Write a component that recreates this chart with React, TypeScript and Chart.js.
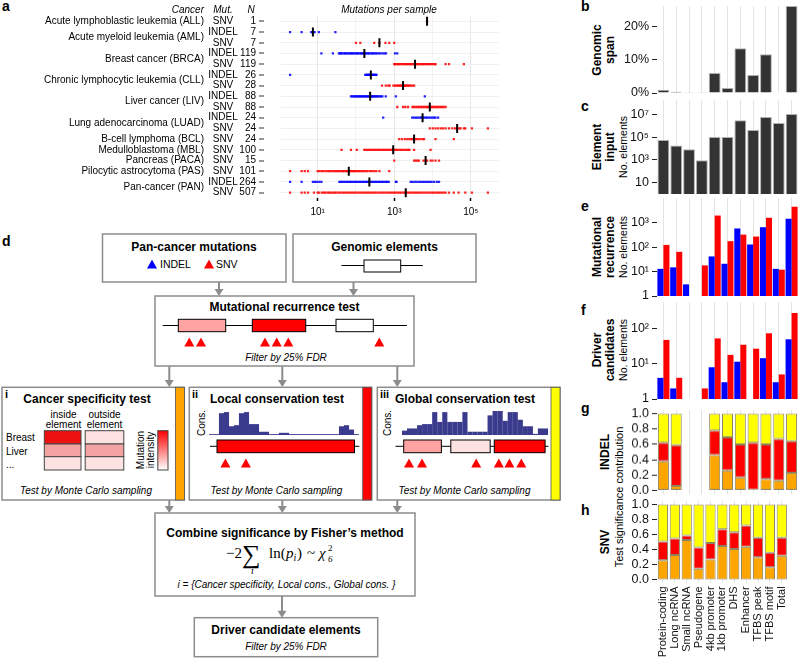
import React, { useEffect, useRef } from "react";
import { Chart, registerables } from "chart.js";
Chart.register(...registerables);

const SANS = '"Liberation Sans", Arial, Helvetica, sans-serif';
const SERIF = '"Liberation Serif", "DejaVu Serif", serif';
Chart.defaults.font.family = SANS;

// ---------------- Panel a data ----------------
const cancerCodes = ["ALL", "AML", "BRCA", "CLL", "LIV", "LUAD", "BCL", "MBL", "PACA", "PAS", "PAN"];
const cancerLabels = [
  "Acute lymphoblastic leukemia (ALL)",
  "Acute myeloid leukemia (AML)",
  "Breast cancer (BRCA)",
  "Chronic lymphocytic leukemia (CLL)",
  "Liver cancer (LIV)",
  "Lung adenocarcinoma (LUAD)",
  "B-cell lymphoma (BCL)",
  "Medulloblastoma (MBL)",
  "Pancreas (PACA)",
  "Pilocytic astrocytoma (PAS)",
  "Pan-cancer (PAN)",
];
const rowCancer = ["ALL", "AML", "AML", "BRCA", "BRCA", "CLL", "CLL", "LIV", "LIV", "LUAD", "LUAD", "BCL", "MBL", "PACA", "PAS", "PAN", "PAN"];
const rowMut = ["SNV", "INDEL", "SNV", "INDEL", "SNV", "INDEL", "SNV", "INDEL", "SNV", "INDEL", "SNV", "SNV", "SNV", "SNV", "SNV", "INDEL", "SNV"];
const rowN = [1, 7, 7, 119, 119, 26, 28, 88, 88, 24, 24, 24, 100, 15, 101, 264, 507];
const rowMedian = [7200, 7.5, 410, 166, 3500, 245, 1700, 235, 8500, 5500, 44000, 3300, 940, 6600, 65, 224, 2000];

const allSnv = [7200];
const amlIndel = [1.9, 3.8, 6.8, 7.5, 8.3, 10.7, 29];
const amlSnv = [100, 130, 300, 410, 590, 740, 1000];
const brcaIndel = [12.5, 25, 36, 38, 41, 44, 48, 52, 55, 60, 64, 70, 75, 80, 86, 92, 100, 108, 115, 125, 135, 145, 155, 166, 178, 190, 205, 220, 240, 260, 280, 305, 330, 360, 400, 440, 500, 560, 610, 1050, 1200];
const brcaSnv = [1000, 1050, 1150, 1250, 1350, 1450, 1600, 1750, 1900, 2050, 2200, 2400, 2600, 2800, 3000, 3250, 3500, 3800, 4100, 4400, 4800, 5200, 5600, 6100, 6600, 7200, 7800, 8500, 9300, 10200, 11500, 12000, 22000, 27000, 66000];
const cllIndel = [1.9, 175, 185, 195, 205, 215, 225, 235, 245, 255, 265, 280, 295, 310, 330, 345];
const cllSnv = [480, 600, 700, 760, 950, 1050, 1150, 1250, 1350, 1450, 1550, 1650, 1700, 1800, 1900, 2050, 2200, 2350, 2500, 2700, 3000, 3300];
const livIndel = [74, 80, 86, 92, 98, 105, 112, 120, 128, 136, 145, 155, 165, 175, 187, 200, 212, 225, 235, 248, 262, 278, 295, 315, 335, 360, 385, 415, 450, 490, 600, 1100, 6300];
const livSnv = [1200, 1700, 1950, 2300, 3000, 3300, 3700, 4100, 4500, 5000, 5500, 6000, 6600, 7200, 7800, 8500, 9200, 10000, 11000, 12000, 13200, 14500, 16000, 17500, 19500, 22000];
const luadIndel = [515, 2950, 3300, 3700, 4100, 4600, 5000, 5500, 6000, 6600, 7200, 8000, 9000, 10000, 11000, 12000, 14000];
const luadSnv = [8500, 10200, 12000, 14000, 16500, 19000, 22000, 27000, 33000, 39000, 44000, 50000, 54000, 66000, 72000, 107000, 280000];
const bclSnv = [1350, 1600, 1900, 2200, 2500, 2800, 3000, 3300, 3700, 4200, 4800, 5500, 6000, 12000, 36000];
const mblSnv = [42, 74, 105, 165, 180, 200, 220, 245, 270, 300, 330, 365, 400, 440, 490, 540, 600, 660, 730, 810, 890, 940, 1000, 1100, 1200, 1350, 1500, 1650, 1850, 2050, 2300, 2500, 3300, 8900];
const pacaSnv = [1000, 3300, 3600, 4000, 4400, 5800, 6600, 7200, 8900, 10000, 12000, 14800];
const pasSnv = [1.9, 3.8, 4.6, 5.6, 10, 11, 12.5, 14, 16, 18, 20, 22, 25, 28, 31, 34, 38, 42, 46, 50, 55, 60, 65, 70, 76, 83, 90, 98, 108, 118, 130, 145, 160, 180, 200, 230, 260, 300, 340, 410, 740];
const panIndel = [1.9, 3.8, 7.5, 8.5, 9.5, 11, 12.5, 37, 40, 44, 48, 53, 58, 63, 69, 75, 82, 90, 98, 107, 117, 128, 140, 153, 167, 182, 198, 215, 224, 235, 256, 280, 305, 330, 360, 395, 430, 470, 510, 560, 610, 660, 720, 1100, 1150, 2700, 3000, 3400, 3800, 4300, 4800, 5400, 6000, 6800, 7600, 8500, 9500, 11000, 13000, 14800];
const panSnv = [1.9, 3.8, 4.6, 5.6, 8, 10, 11, 13, 14.5, 16, 18, 20, 22, 25, 28, 31, 35, 39, 44, 49, 55, 62, 70, 78, 88, 98, 110, 123, 138, 155, 173, 195, 218, 245, 275, 310, 345, 390, 440, 490, 550, 620, 700, 780, 880, 990, 1100, 1250, 1400, 1550, 1750, 1950, 2000, 2200, 2450, 2750, 3100, 3500, 3900, 4400, 4900, 5500, 6200, 7000, 7800, 8800, 9900, 11000, 12500, 14000, 15500, 17500, 19500, 22000, 27000, 36000, 48000, 72000, 107000, 280000];
const rowValues = [allSnv, amlIndel, amlSnv, brcaIndel, brcaSnv, cllIndel, cllSnv, livIndel, livSnv, luadIndel, luadSnv, bclSnv, mblSnv, pacaSnv, pasSnv, panIndel, panSnv];

const xTickValues = [10, 100, 1000, 10000, 100000];
const xTickLabels = ["10¹", "", "10³", "", "10⁵"];

// ---------------- Right panels data ----------------
const elementTypes = ["Protein-coding", "Long ncRNA", "Small ncRNA", "Pseudogene", "4kb promoter", "1kb promoter", "DHS", "Enhancer", "TFBS peak", "TFBS motif", "Total"];
const genomicSpanPct = [1.0, 0.4, 0.05, 0.05, 6.0, 1.5, 13.5, 5.4, 11.7, 0.15, 26.2];
const elementInput = [56000, 17800, 8500, 910, 100000, 100000, 2950000, 417000, 5750000, 1740000, 10700000];
const recurrenceIndel = [13, 15, 3, null, 42, 21, 590, 130, 665, 13, 1480];
const recurrenceSnv = [125, 65, null, 18, 2000, 178, 330, 275, 1620, 12, 4600];
const driverIndel = [4, 2, null, null, 8, 3, 11.5, null, 14.5, 3, 50];
const driverSnv = [48, 4, null, 2, 53, 18, 35, 27, 74, 5, 280];
const indelSpecificity = [0.38, 0.06, null, null, 0.46, 0.26, 0.17, 0.01, 0.15, 0.13, 0.23];
const indelLocal = [0.24, 0.53, null, null, 0.32, 0.43, 0.43, 0.61, 0.45, 0.54, 0.41];
const indelGlobal = [0.38, 0.41, null, null, 0.22, 0.31, 0.4, 0.38, 0.4, 0.33, 0.36];
const snvSpecificity = [0.26, 0.33, 0.53, 0.15, 0.27, 0.45, 0.41, 0.44, 0.3, 0.17, 0.32];
const snvLocal = [0.25, 0.22, 0.06, 0.28, 0.22, 0.22, 0.22, 0.28, 0.26, 0.19, 0.24];
const snvGlobal = [0.49, 0.45, 0.41, 0.57, 0.51, 0.33, 0.37, 0.28, 0.44, 0.64, 0.44];

// schematic conservation profiles (panel d)
const consLocal = [0.8, 0.8, 20, 21, 8, 9, 20, 21, 10, 10, 3, 3, 0.8, 0.8, 2, 2, 0.8, 0.8, 0.8, 0.8, 0.8, 0.8, 0.8, 0.8, 0.8, 0.8, 8, 9, 5, 0.8];
const consGlobal = [4, 6, 6, 9, 10, 10, 21, 12, 21, 12, 12, 12, 21, 3, 3, 3, 3, 18, 22, 22, 13, 21, 21, 14, 8, 8, 1, 6, 6];

const BLUE = "#0000ff";
const RED = "#ff0000";
const ORANGE = "#ffa500";
const YELLOW = "#ffff00";
const NAVY = "#3b3b8e";

function ChartBox({ left, top, width, height, build }: any) {
  const ref = useRef<HTMLCanvasElement>(null);
  useEffect(() => {
    const chart = new Chart(ref.current as HTMLCanvasElement, build());
    return () => chart.destroy();
  }, []);
  return <canvas ref={ref} width={width} height={height} style={{ position: "absolute", left, top, width, height }} />;
}

const leftLabels = {
  id: "leftLabels",
  afterDraw(chart: any) {
    const { ctx } = chart;
    const ys = chart.scales.y;
    ctx.save();
    ctx.fillStyle = "#000";
    ctx.textBaseline = "middle";
    ctx.font = `10px ${SANS}`;
    rowMut.forEach((m, i) => {
      const py = ys.getPixelForValue(i + 1);
      ctx.textAlign = "center";
      ctx.fillText(m, 223, py);
      ctx.textAlign = "right";
      ctx.fillText(String(rowN[i]), 256, py);
      ctx.fillStyle = "#333";
      ctx.fillRect(259, Math.round(py) - 0.5, 5, 1);
      ctx.fillStyle = "#000";
    });
    cancerCodes.forEach((code, k) => {
      const idx = rowCancer.map((c, i) => (c === code ? i : -1)).filter((i) => i >= 0);
      const py = (ys.getPixelForValue(idx[0] + 1) + ys.getPixelForValue(idx[idx.length - 1] + 1)) / 2;
      ctx.textAlign = "right";
      ctx.fillText(cancerLabels[k], 204, py);
    });
    ctx.font = `italic 10px ${SANS}`;
    ctx.textAlign = "right";
    ctx.fillText("Cancer", 204, 10);
    ctx.textAlign = "center";
    ctx.fillText("Mut.", 223, 10);
    ctx.fillText("N", 251, 10);
    ctx.fillText("Mutations per sample", 389, 10);
    ctx.restore();
  },
};

function buildPanelA() {
  const indelPts: any[] = [];
  const snvPts: any[] = [];
  rowValues.forEach((vals, i) => {
    const target = rowMut[i] === "INDEL" ? indelPts : snvPts;
    vals.forEach((v) => target.push({ x: v, y: i + 1 }));
  });
  const medPts = rowMedian.map((m, i) => ({ x: m, y: i + 1 }));
  return {
    type: "scatter",
    data: {
      datasets: [
        { data: medPts, pointStyle: "line", rotation: 90, pointRadius: 4.5, borderColor: "#000", borderWidth: 2, backgroundColor: "#000" },
        { data: indelPts, pointStyle: "rect", pointRadius: 1.6, backgroundColor: "rgba(0,0,255,0.85)", borderWidth: 0 },
        { data: snvPts, pointStyle: "rect", pointRadius: 1.6, backgroundColor: "rgba(255,0,0,0.85)", borderWidth: 0 },
      ],
    },
    options: {
      animation: false,
      responsive: false,
      maintainAspectRatio: false,
      layout: { padding: { left: 281, right: 5, top: 16, bottom: 0 } },
      plugins: { legend: { display: false }, tooltip: { enabled: false } },
      scales: {
        x: {
          type: "logarithmic",
          min: 1.1,
          max: 530000,
          afterBuildTicks: (s: any) => {
            s.ticks = xTickValues.map((v) => ({ value: v }));
          },
          ticks: { callback: (_v: any, i: number) => xTickLabels[i], font: { size: 10 }, color: "#000", padding: 5, autoSkip: false, maxRotation: 0 },
          grid: {
            color: (c: any) => (xTickLabels[c.index] ? "#e8e8e8" : "#f4f4f4"),
            tickColor: (c: any) => (xTickLabels[c.index] ? "#000" : "rgba(0,0,0,0)"),
            tickLength: 3,
            tickWidth: 1.5,
          },
          border: { display: false },
          afterFit: (s: any) => {
            s.height = 24;
          },
        },
        y: {
          type: "linear",
          min: 0.5,
          max: 17.5,
          reverse: true,
          afterBuildTicks: (s: any) => {
            s.ticks = rowMut.map((_m, i) => ({ value: i + 1 }));
          },
          ticks: { display: false },
          grid: { color: "#f0f0f0", drawTicks: false },
          border: { display: false },
          afterFit: (s: any) => {
            s.width = 0;
          },
        },
      },
    },
    plugins: [leftLabels],
  };
}

const PAD = 7;
function rightPanel(o: any) {
  return () => ({
    type: "bar",
    data: { labels: elementTypes, datasets: o.datasets },
    options: {
      animation: false,
      responsive: false,
      maintainAspectRatio: false,
      layout: { padding: { top: PAD, bottom: o.showX ? 0 : PAD, left: 0, right: 0 } },
      plugins: { legend: { display: false }, tooltip: { enabled: false } },
      datasets: { bar: { categoryPercentage: o.catPct, barPercentage: o.barPct } },
      scales: {
        x: {
          stacked: !!o.stacked,
          grid: { offset: false, color: "#e4e4e4", lineWidth: 1, drawTicks: false },
          border: { display: false },
          ticks: o.showX
            ? { display: true, autoSkip: false, maxRotation: 90, minRotation: 90, font: { size: 11 }, color: "#111", padding: 3 }
            : { display: false },
          afterFit: (s: any) => {
            s.height = o.showX ? o.xHeight : 0;
          },
        },
        y: {
          type: o.yType,
          min: o.min,
          max: o.max,
          stacked: !!o.stacked,
          afterBuildTicks: (s: any) => {
            s.ticks = o.ticks.map((v: number) => ({ value: v }));
          },
          ticks: { callback: (_v: any, i: number) => o.labels[i], font: { size: 12.5 }, color: "#111", padding: 3, autoSkip: false },
          grid: { drawOnChartArea: false, drawTicks: true, tickLength: 5, tickColor: "#222", tickWidth: 1 },
          border: { display: false },
          afterFit: (s: any) => {
            s.width = 59;
            s.paddingTop = 0;
            s.paddingBottom = 0;
          },
        },
      },
    },
  });
}

const darkBar = { backgroundColor: "#333333", borderColor: "#b0b0b0", borderWidth: 1 };
const stackBorder = { borderColor: "rgba(110,100,60,0.8)", borderWidth: 1, borderSkipped: false };

const panelB = rightPanel({
  datasets: [{ data: genomicSpanPct, ...darkBar }],
  yType: "linear", min: 0, max: 26.2, ticks: [0, 10, 20], labels: ["0%", "10%", "20%"], catPct: 1, barPct: 0.92,
});
const panelC = rightPanel({
  datasets: [{ data: elementInput, ...darkBar }],
  yType: "logarithmic", min: 1, max: 1.8e8, ticks: [10, 1e3, 1e5, 1e7], labels: ["10", "10³", "10⁵", "10⁷"], catPct: 1, barPct: 0.92,
});
const panelE = rightPanel({
  datasets: [
    { data: recurrenceIndel, backgroundColor: BLUE },
    { data: recurrenceSnv, backgroundColor: RED },
  ],
  yType: "logarithmic", min: 1, max: 10500, ticks: [1, 10, 100, 1000], labels: ["1", "10¹", "10²", "10³"], catPct: 0.94, barPct: 1,
});
const panelF = rightPanel({
  datasets: [
    { data: driverIndel, backgroundColor: BLUE },
    { data: driverSnv, backgroundColor: RED },
  ],
  yType: "logarithmic", min: 1, max: 575, ticks: [1, 10, 100], labels: ["1", "10¹", "10²"], catPct: 0.94, barPct: 1,
});
const panelG = rightPanel({
  datasets: [
    { data: indelSpecificity, backgroundColor: ORANGE, ...stackBorder },
    { data: indelLocal, backgroundColor: RED, ...stackBorder },
    { data: indelGlobal, backgroundColor: YELLOW, ...stackBorder },
  ],
  stacked: true, yType: "linear", min: -0.045, max: 1.045, ticks: [0, 0.2, 0.4, 0.6, 0.8, 1.0], labels: ["0.0", "0.2", "0.4", "0.6", "0.8", "1.0"], catPct: 1, barPct: 0.86,
});
const panelH = rightPanel({
  datasets: [
    { data: snvSpecificity, backgroundColor: ORANGE, ...stackBorder },
    { data: snvLocal, backgroundColor: RED, ...stackBorder },
    { data: snvGlobal, backgroundColor: YELLOW, ...stackBorder },
  ],
  stacked: true, yType: "linear", min: -0.045, max: 1.045, ticks: [0, 0.2, 0.4, 0.6, 0.8, 1.0], labels: ["0.0", "0.2", "0.4", "0.6", "0.8", "1.0"], catPct: 1, barPct: 0.86,
  showX: true, xHeight: 76.6,
});

function consChart(values: number[]) {
  return () => ({
    type: "bar",
    data: { labels: values.map((_v, i) => String(i)), datasets: [{ data: values, backgroundColor: NAVY, categoryPercentage: 1, barPercentage: 1.02 }] },
    options: {
      animation: false,
      responsive: false,
      maintainAspectRatio: false,
      layout: { padding: 0 },
      plugins: { legend: { display: false }, tooltip: { enabled: false } },
      scales: { x: { display: false }, y: { display: false, min: 0, max: 22 } },
    },
  });
}

// ---------------- SVG helpers ----------------
function T({ x, y, s = 10, w = "normal", it = false, a = "start", fam = SANS, fill = "#000", children }: any) {
  return (
    <text x={x} y={y} fontSize={s} fontWeight={w} fontStyle={it ? "italic" : "normal"} textAnchor={a} fontFamily={fam} fill={fill}>
      {children}
    </text>
  );
}
function RT({ x, y, s = 12, w = "bold", children }: any) {
  return (
    <text transform={`translate(${x},${y}) rotate(-90)`} textAnchor="middle" fontSize={s} fontWeight={w} fontFamily={SANS} fill="#000">
      {children}
    </text>
  );
}
function Arrow({ x, y1, y2 }: any) {
  return (
    <g>
      <line x1={x} y1={y1} x2={x} y2={y2 - 6} stroke="#8c8c8c" strokeWidth={2} />
      <polygon points={`${x - 4.5},${y2 - 7} ${x + 4.5},${y2 - 7} ${x},${y2}`} fill="#8c8c8c" />
    </g>
  );
}
function Tri({ cx, cy, c = RED }: any) {
  const w = 10, h = 9;
  return <polygon points={`${cx - w / 2},${cy + h / 2} ${cx + w / 2},${cy + h / 2} ${cx},${cy - h / 2}`} fill={c} />;
}
function Box({ x, y, w, h }: any) {
  return <rect x={x} y={y} width={w} height={h} fill="#fff" stroke="#8c8c8c" strokeWidth={1.5} />;
}

function Schematic() {
  return (
    <svg width={798} height={660} style={{ position: "absolute", left: 0, top: 0 }}>
      <defs>
        <linearGradient id="mi" x1="0" y1="0" x2="0" y2="1">
          <stop offset="0" stopColor="#ff0000" />
          <stop offset="1" stopColor="#ffffff" />
        </linearGradient>
      </defs>
      {/* panel letters */}
      <T x={2} y={11} s={14} w="bold">a</T>
      <T x={2} y={246} s={14} w="bold">d</T>
      <T x={581} y={11} s={14} w="bold">b</T>
      <T x={581} y={111} s={14} w="bold">c</T>
      <T x={581} y={211} s={14} w="bold">e</T>
      <T x={581} y={315} s={14} w="bold">f</T>
      <T x={581} y={413} s={14} w="bold">g</T>
      <T x={581} y={515} s={14} w="bold">h</T>

      {/* right panel titles */}
      <RT x={601} y={50}>Genomic</RT>
      <RT x={614} y={50}>span</RT>
      <RT x={601} y={147}>Element</RT>
      <RT x={614} y={147}>input</RT>
      <RT x={627} y={147} s={10.5} w="normal">No. elements</RT>
      <RT x={601} y={247}>Mutational</RT>
      <RT x={614} y={247}>recurrence</RT>
      <RT x={627} y={247} s={10.5} w="normal">No. elements</RT>
      <RT x={601} y={350}>Driver</RT>
      <RT x={614} y={350}>candidates</RT>
      <RT x={627} y={350} s={10.5} w="normal">No. elements</RT>
      <RT x={609} y={452}>INDEL</RT>
      <RT x={609} y={542}>SNV</RT>
      <RT x={623} y={497} s={11} w="normal">Test significance contribution</RT>

      {/* top boxes */}
      <Box x={102.5} y={234} w={183.5} h={48} />
      <T x={194} y={251} s={12} w="bold" a="middle">Pan-cancer mutations</T>
      <Tri cx={152} cy={264} c={BLUE} />
      <T x={160} y={268} s={10.5}>INDEL</T>
      <Tri cx={209} cy={264} c={RED} />
      <T x={216} y={268} s={10.5}>SNV</T>
      <Box x={293} y={234} w={183} h={48} />
      <T x={384.5} y={251} s={12} w="bold" a="middle">Genomic elements</T>
      <line x1={341.4} y1={265.5} x2={422.8} y2={265.5} stroke="#000" strokeWidth={1} />
      <rect x={364} y={260} width={36.7} height={12} fill="#fff" stroke="#000" strokeWidth={1} />
      <Arrow x={219} y1={282} y2={296} />
      <Arrow x={353.5} y1={282} y2={296} />

      {/* mutational recurrence */}
      <Box x={155} y={296} w={259} h={70} />
      <T x={284.5} y={311} s={12} w="bold" a="middle">Mutational recurrence test</T>
      <line x1={162.7} y1={325.5} x2={407} y2={325.5} stroke="#000" strokeWidth={1} />
      <rect x={178.3} y={319.3} width={47.4} height={12.4} fill="#ffa3a3" stroke="#000" strokeWidth={1} />
      <rect x={252.3} y={319.3} width={53.4} height={12.4} fill="#ff0000" stroke="#000" strokeWidth={1} />
      <rect x={336} y={319.3} width={37.3} height={12.4} fill="#fff" stroke="#000" strokeWidth={1} />
      {[189.3, 201, 265, 276.7, 288.3, 379.3].map((cx) => (
        <Tri key={cx} cx={cx} cy={342} />
      ))}
      <T x={286} y={361} s={10} it a="middle">Filter by 25% FDR</T>
      <Arrow x={169.3} y1={366} y2={387} />
      <Arrow x={282.3} y1={366} y2={387} />
      <Arrow x={397.3} y1={366} y2={387} />

      {/* box i */}
      <Box x={2} y={387.3} w={182.3} h={112.7} />
      <rect x={175.4} y={387.3} width={9} height={112.7} fill={ORANGE} stroke="#555" strokeWidth={0.8} />
      <T x={5} y={398} s={11} w="bold">i</T>
      <T x={87} y={403} s={12} w="bold" a="middle">Cancer specificity test</T>
      <T x={63.5} y={418} s={10} a="middle">inside</T>
      <T x={63.5} y={428} s={10} a="middle">element</T>
      <T x={104.5} y={418} s={10} a="middle">outside</T>
      <T x={104.5} y={428} s={10} a="middle">element</T>
      <rect x={44.3} y={430.7} width={36.7} height={13.3} fill="#ee1111" stroke="#444" strokeWidth={1} />
      <rect x={44.3} y={444} width={36.7} height={12.7} fill="#f4a3a3" stroke="#444" strokeWidth={1} />
      <rect x={44.3} y={456.7} width={36.7} height={13.3} fill="#fde2e2" stroke="#444" strokeWidth={1} />
      <rect x={85.2} y={430.7} width={38.6} height={13.3} fill="#fde2e2" stroke="#444" strokeWidth={1} />
      <rect x={85.2} y={444} width={38.6} height={12.7} fill="#f4a3a3" stroke="#444" strokeWidth={1} />
      <rect x={85.2} y={456.7} width={38.6} height={13.3} fill="#fde2e2" stroke="#444" strokeWidth={1} />
      <T x={6} y={441} s={10}>Breast</T>
      <T x={6} y={455} s={10}>Liver</T>
      <T x={6} y={468} s={10}>...</T>
      <rect x={157.8} y={430.7} width={10.2} height={39.3} fill="url(#mi)" stroke="#444" strokeWidth={1} />
      <RT x={144} y={450} s={10} w="normal">Mutation</RT>
      <RT x={154} y={450} s={10} w="normal">intensity</RT>
      <T x={86} y={494} s={10} it a="middle">Test by Monte Carlo sampling</T>

      {/* box ii */}
      <Box x={189.3} y={387.3} w={182.4} h={112.7} />
      <rect x={362.7} y={387.3} width={9} height={112.7} fill={RED} stroke="#555" strokeWidth={0.8} />
      <T x={192} y={398} s={11} w="bold">ii</T>
      <T x={277} y={403} s={12} w="bold" a="middle">Local conservation test</T>
      <RT x={205} y={423} s={10} w="normal">Cons.</RT>
      <line x1={210} y1={446.3} x2={359.4} y2={446.3} stroke="#000" strokeWidth={1} />
      <rect x={217} y={440} width={137.5} height={12.7} fill={RED} stroke="#000" strokeWidth={1} />
      <Tri cx={225.4} cy={463} />
      <Tri cx={245.9} cy={463} />
      <T x={276.4} y={494} s={10} it a="middle">Test by Monte Carlo sampling</T>

      {/* box iii */}
      <Box x={377.3} y={387.3} w={182.7} h={112.7} />
      <rect x={551} y={387.3} width={9} height={112.7} fill={YELLOW} stroke="#555" strokeWidth={0.8} />
      <T x={380} y={398} s={11} w="bold">iii</T>
      <T x={465} y={403} s={12} w="bold" a="middle">Global conservation test</T>
      <RT x={391} y={423} s={10} w="normal">Cons.</RT>
      <line x1={395.5} y1={446.3} x2={548.4} y2={446.3} stroke="#000" strokeWidth={1} />
      <rect x={403.7} y={440} width={37.7} height={12.7} fill="#ffa3a3" stroke="#000" strokeWidth={1} />
      <rect x={450.8} y={440} width={39.4} height={12.7} fill="#fde2e2" stroke="#000" strokeWidth={1} />
      <rect x={494.3} y={440} width={50.8} height={12.7} fill={RED} stroke="#000" strokeWidth={1} />
      {[409, 422, 476.2, 498.8, 509.4, 521.3].map((cx) => (
        <Tri key={cx} cx={cx} cy={463} />
      ))}
      <T x={464.5} y={494} s={10} it a="middle">Test by Monte Carlo sampling</T>

      <Arrow x={169.3} y1={500} y2={513} />
      <Arrow x={282.3} y1={500} y2={513} />
      <Arrow x={397.3} y1={500} y2={513} />

      {/* Fisher */}
      <Box x={155} y={513} w={260} h={83} />
      <T x={285} y={537} s={12} w="bold" a="middle">Combine significance by Fisher’s method</T>
      <T x={226} y={558} s={15} fam={SERIF}>−2</T>
      <T x={242} y={563} s={26} fam={SERIF}>∑</T>
      <T x={251} y={574} s={10} it fam={SERIF}>i</T>
      <T x={269} y={558} s={15} fam={SERIF}>ln(</T>
      <T x={286} y={558} s={15} it fam={SERIF}>p</T>
      <T x={293.5} y={561} s={10} it fam={SERIF}>i</T>
      <T x={297} y={558} s={15} fam={SERIF}>)</T>
      <T x={307} y={558} s={15} fam={SERIF}>~</T>
      <T x={319} y={558} s={15} it fam={SERIF}>χ</T>
      <T x={328} y={551} s={9} fam={SERIF}>2</T>
      <T x={328} y={562} s={9} it fam={SERIF}>6</T>
      <T x={286.5} y={588} s={10} it a="middle">i = {"{"}Cancer specificity, Local cons., Global cons. {"}"}</T>
      <Arrow x={282} y1={596} y2={617.7} />

      {/* Driver */}
      <Box x={194.3} y={617.7} w={183.4} h={39} />
      <T x={286} y={634} s={12} w="bold" a="middle">Driver candidate elements</T>
      <T x={286} y={650} s={10} it a="middle">Filter by 25% FDR</T>
    </svg>
  );
}

export default function App() {
  return (
    <div style={{ position: "absolute", left: 0, top: 0, width: 798, height: 660, background: "#fff", overflow: "hidden", fontFamily: SANS }}>
      <Schematic />
      <ChartBox left={0} top={0} width={505} height={222} build={buildPanelA} />
      <ChartBox left={598} top={6 - PAD} width={200} height={87.3 + 2 * PAD} build={panelB} />
      <ChartBox left={598} top={100 - PAD} width={200} height={94.3 + 2 * PAD} build={panelC} />
      <ChartBox left={598} top={198.3 - PAD} width={200} height={98 + 2 * PAD} build={panelE} />
      <ChartBox left={598} top={301.7 - PAD} width={200} height={97.6 + 2 * PAD} build={panelF} />
      <ChartBox left={598} top={410 - PAD} width={200} height={83.5 + 2 * PAD} build={panelG} />
      <ChartBox left={598} top={500.9 - PAD} width={200} height={660 - 500.9 + PAD} build={panelH} />
      <ChartBox left={209} top={411} width={150} height={24} build={consChart(consLocal)} />
      <ChartBox left={401.6} top={411} width={146} height={24} build={consChart(consGlobal)} />
    </div>
  );
}
